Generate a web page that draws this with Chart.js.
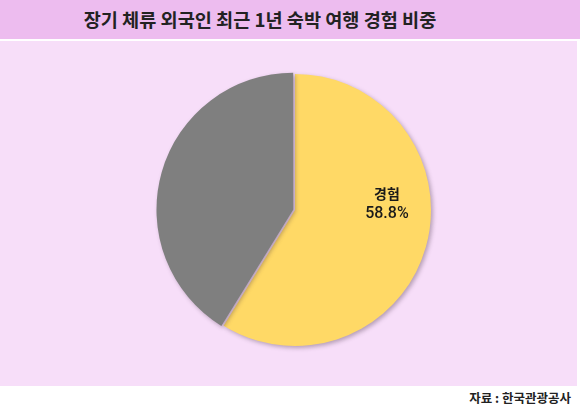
<!DOCTYPE html>
<html>
<head>
<meta charset="utf-8">
<script src="https://cdn.jsdelivr.net/npm/chart.js@4"></script>
<style>
  html, body { margin: 0; padding: 0; background: #ffffff; width: 580px; height: 414px; overflow: hidden; }
  #title { position: absolute; left: 0; top: 0; width: 580px; height: 39px; background: #EDBCEF;
    font-family: "Noto Sans CJK KR", sans-serif; font-weight: 700; font-size: 18.6px; color: #222;
    line-height: 37px; text-align: center; text-indent: -60px; }
  #plot { position: absolute; left: 0; top: 41px; width: 577px; height: 345px; background: #F7DEF9; }
  #wrap { position: absolute; left: 145px; top: 60px; width: 300px; height: 300px; }
  #source { position: absolute; right: 9px; top: 388px; font-family: "Noto Sans CJK KR", sans-serif;
    font-weight: 700; font-size: 12.5px; color: #222; }
</style>
</head>
<body>
<div id="title">장기 체류 외국인 최근 1년 숙박 여행 경험 비중</div>
<div id="plot"></div>
<div id="wrap"><canvas id="c"></canvas></div>
<div id="source">자료 : 한국관광공사</div>
<script>
const categories = ["경험", "미경험"];
const values = [58.8, 41.2];
const shownLabels = [true, false];

const shadowPlugin = {
  id: 'shadow',
  beforeDatasetsDraw(chart) {
    const ctx = chart.ctx;
    ctx.save();
    ctx.shadowColor = 'rgba(60,40,60,0.35)';
    ctx.shadowBlur = 4;
    ctx.shadowOffsetX = 2;
    ctx.shadowOffsetY = 2;
  },
  afterDatasetsDraw(chart) {
    chart.ctx.restore();
  }
};

const labelPlugin = {
  id: 'sliceLabels',
  afterDatasetsDraw(chart) {
    const ctx = chart.ctx;
    const meta = chart.getDatasetMeta(0);
    meta.data.forEach((arc, i) => {
      if (!shownLabels[i]) return;
      const r = arc.outerRadius;
      const x = arc.x + 0.676 * r;
      const y = arc.y - 0.05 * r;
      ctx.save();
      ctx.fillStyle = '#1a1a1a';
      ctx.textAlign = 'center';
      ctx.textBaseline = 'middle';
      ctx.font = '700 14px "Noto Sans CJK KR", sans-serif';
      ctx.fillText(categories[i], x, y - 10);
      ctx.font = '500 16px Roboto, sans-serif';
      ctx.fillText(values[i].toFixed(1) + '%', x, y + 11);
      ctx.restore();
    });
  }
};

new Chart(document.getElementById('c'), {
  type: 'pie',
  data: {
    labels: categories,
    datasets: [{
      data: values,
      backgroundColor: ['#FFD966', '#7F7F7F'],
      borderWidth: 0,
      offset: [0, 7]
    }]
  },
  options: {
    responsive: true,
    maintainAspectRatio: false,
    animation: false,
    radius: 136,
    layout: { padding: 0 },
    plugins: {
      legend: { display: false },
      tooltip: { enabled: false }
    }
  },
  plugins: [shadowPlugin, labelPlugin]
});
</script>
</body>
</html>
